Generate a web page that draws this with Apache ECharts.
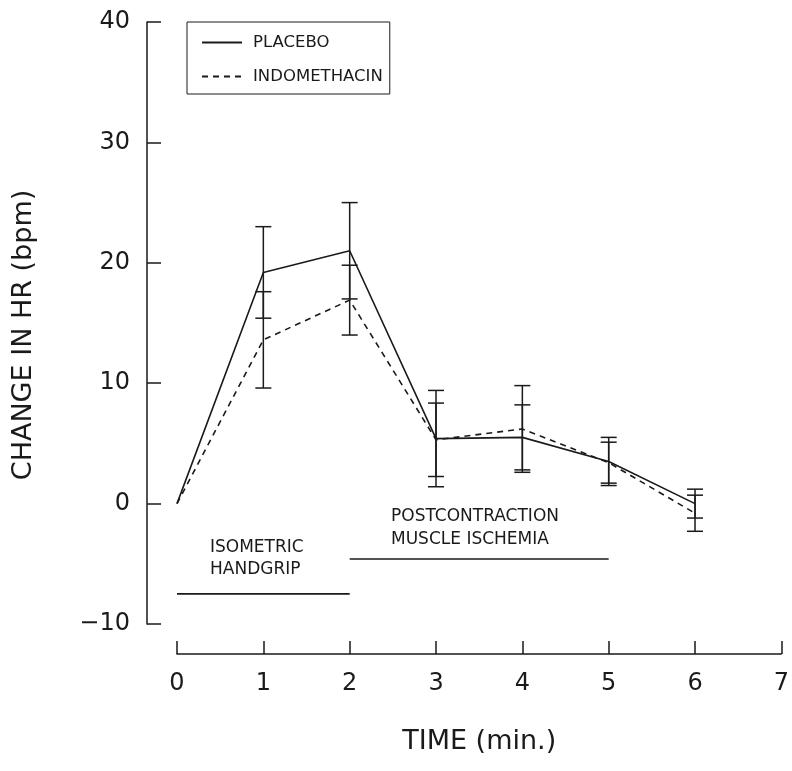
<!DOCTYPE html>
<html>
<head>
    <meta charset="utf-8">
    <title>Change in HR</title>
    <style type="text/css">
        html, body { margin: 0; padding: 0; background: #fff; }
        #chart { width: 792px; height: 771px; }
    </style>
</head>
<body>
    <div id="chart"></div>
    <script src="https://cdn.jsdelivr.net/npm/echarts@6/dist/echarts.min.js"></script>
    <script>
        // time points (min)
        var times = [0, 1, 2, 3, 4, 5, 6];

        // mean change in HR (bpm)
        var placebo = [0, 19.2, 21.0, 5.4, 5.5, 3.5, 0.0];
        var indomethacin = [0, 13.6, 16.9, 5.3, 6.2, 3.4, -0.8];

        // error bar half widths (bpm)
        var placeboErr = [0, 3.8, 4.0, 4.0, 2.7, 2.0, 1.2];
        var indomethacinErr = [0, 4.0, 2.9, 3.05, 3.6, 1.7, 1.5];

        // protocol bars: [start, end, level]
        var handgripBar = [0, 2, -7.5];
        var ischemiaBar = [2, 5, -4.6];

        var xTicks = ['0', '1', '2', '3', '4', '5', '6', '7'];

        var fontFam = '"DejaVu Sans", sans-serif';
        var ink = '#1a1a1a';

        function pairs(xs, ys) {
            var out = [];
            for (var i = 0; i < xs.length; i++) out.push([xs[i], ys[i]]);
            return out;
        }

        function errData(xs, ys, es) {
            var out = [];
            for (var i = 0; i < xs.length; i++) {
                if (es[i] > 0) out.push([xs[i], ys[i] - es[i], ys[i] + es[i]]);
            }
            return out;
        }

        function renderErr(params, api) {
            var x = api.value(0);
            var lo = api.coord([x, api.value(1)]);
            var hi = api.coord([x, api.value(2)]);
            var w = 8;
            var st = { stroke: ink, lineWidth: 1.5 };
            return {
                type: 'group',
                children: [
                    { type: 'line', shape: { x1: lo[0], y1: lo[1], x2: hi[0], y2: hi[1] }, style: st },
                    { type: 'line', shape: { x1: lo[0] - w, y1: lo[1], x2: lo[0] + w, y2: lo[1] }, style: st },
                    { type: 'line', shape: { x1: hi[0] - w, y1: hi[1], x2: hi[0] + w, y2: hi[1] }, style: st }
                ]
            };
        }

        var chart = echarts.init(document.getElementById('chart'));

        var option = {
            backgroundColor: '#fff',
            animation: false,
            grid: { left: 177, top: 22, width: 606, height: 602 },
            legend: {
                left: 187,
                top: 22,
                orient: 'vertical',
                data: ['PLACEBO', 'INDOMETHACIN'],
                itemWidth: 40,
                itemHeight: 14,
                itemGap: 17,
                padding: [12, 7, 9, 14],
                borderColor: ink,
                borderWidth: 1,
                itemStyle: { opacity: 0 },
                textStyle: { fontFamily: fontFam, fontSize: 16.5, color: ink, padding: [0, 0, 0, 6] }
            },
            xAxis: {
                type: 'value',
                min: 0,
                max: 7,
                interval: 1,
                offset: 30,
                name: 'TIME (min.)',
                nameLocation: 'middle',
                nameGap: 74,
                nameTextStyle: { fontFamily: fontFam, fontSize: 27, color: ink },
                axisLine: { onZero: false, lineStyle: { color: ink, width: 1.5 } },
                axisTick: { inside: true, length: 13, lineStyle: { color: ink, width: 1.5 } },
                axisLabel: {
                    margin: 18,
                    fontFamily: fontFam,
                    fontSize: 24,
                    color: ink,
                    formatter: function (v) { return xTicks[v]; }
                },
                splitLine: { show: false }
            },
            yAxis: {
                type: 'value',
                min: -10,
                max: 40,
                interval: 10,
                offset: 30,
                name: 'CHANGE IN HR (bpm)',
                nameLocation: 'middle',
                nameGap: 110,
                nameTextStyle: { fontFamily: fontFam, fontSize: 27, color: ink, padding: [0, 24, 0, 0] },
                axisLine: { show: true, onZero: false, lineStyle: { color: ink, width: 1.5 } },
                axisTick: { show: true, inside: true, length: 14, lineStyle: { color: ink, width: 1.5 } },
                axisLabel: {
                    margin: 17,
                    fontFamily: fontFam,
                    fontSize: 24,
                    color: ink,
                    formatter: function (v) { return v < 0 ? '\u2212' + Math.abs(v) : String(v); }
                },
                splitLine: { show: false }
            },
            graphic: [
                {
                    type: 'text',
                    left: 210,
                    top: 537,
                    style: {
                        text: 'ISOMETRIC\nHANDGRIP',
                        fontFamily: fontFam,
                        fontSize: 17,
                        lineHeight: 22,
                        fill: ink
                    }
                },
                {
                    type: 'text',
                    left: 391,
                    top: 505,
                    style: {
                        text: 'POSTCONTRACTION\nMUSCLE ISCHEMIA',
                        fontFamily: fontFam,
                        fontSize: 17,
                        lineHeight: 23,
                        fill: ink
                    }
                }
            ],
            series: [
                {
                    name: 'PLACEBO',
                    type: 'line',
                    data: pairs(times, placebo),
                    symbol: 'none',
                    lineStyle: { color: ink, width: 1.6, type: 'solid' },
                    itemStyle: { color: ink },
                    z: 3
                },
                {
                    name: 'INDOMETHACIN',
                    type: 'line',
                    data: pairs(times, indomethacin),
                    symbol: 'none',
                    lineStyle: { color: ink, width: 1.6, type: [6, 5] },
                    itemStyle: { color: ink },
                    z: 3
                },
                {
                    type: 'custom',
                    renderItem: renderErr,
                    data: errData(times, placebo, placeboErr),
                    z: 4
                },
                {
                    type: 'custom',
                    renderItem: renderErr,
                    data: errData(times, indomethacin, indomethacinErr),
                    z: 4
                },
                {
                    type: 'line',
                    data: [[handgripBar[0], handgripBar[2]], [handgripBar[1], handgripBar[2]]],
                    symbol: 'none',
                    lineStyle: { color: ink, width: 1.6 }
                },
                {
                    type: 'line',
                    data: [[ischemiaBar[0], ischemiaBar[2]], [ischemiaBar[1], ischemiaBar[2]]],
                    symbol: 'none',
                    lineStyle: { color: ink, width: 1.6 }
                }
            ]
        };

        chart.setOption(option);
    </script>
</body>
</html>
